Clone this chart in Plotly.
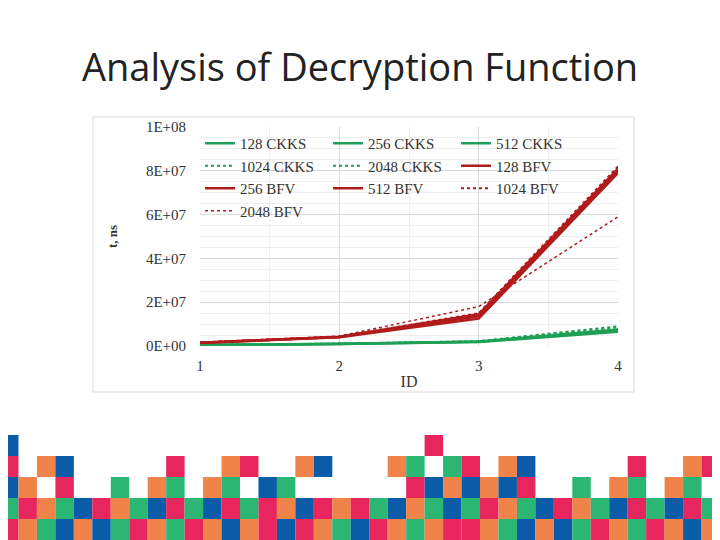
import plotly.graph_objects as go

ids = [1, 2, 3, 4]
names = ["128 CKKS", "256 CKKS", "512 CKKS", "1024 CKKS", "2048 CKKS",
         "128 BFV", "256 BFV", "512 BFV", "1024 BFV", "2048 BFV"]
values = [
    [0.4e6, 0.9e6, 1.8e6, 6.5e6],
    [0.4e6, 0.9e6, 1.9e6, 7.0e6],
    [0.5e6, 1.0e6, 2.0e6, 7.5e6],
    [0.5e6, 1.0e6, 2.1e6, 8.5e6],
    [0.5e6, 1.1e6, 2.2e6, 9.0e6],
    [1.4e6, 4.0e6, 12.5e6, 79e6],
    [1.5e6, 4.1e6, 13.5e6, 80e6],
    [1.5e6, 4.2e6, 14.5e6, 81e6],
    [1.6e6, 4.3e6, 15.0e6, 82e6],
    [1.7e6, 4.5e6, 18.0e6, 59e6],
]
green, red = "#1FA055", "#B01C1C"
styles = [(green, 2.5, "solid"), (green, 2.5, "solid"), (green, 2.5, "solid"),
          (green, 2, "dot"), (green, 2, "dot"),
          (red, 2.5, "solid"), (red, 2.5, "solid"), (red, 2.5, "solid"),
          (red, 2, "dot"), (red, 1.5, "dot")]

fig = go.Figure()
for n, v, (c, w, d) in zip(names, values, styles):
    fig.add_trace(go.Scatter(x=ids, y=v, name=n, mode="lines",
                             line=dict(color=c, width=w, dash=d)))

# page has an 8px body margin; target pixel positions are shifted accordingly
OFF = 8
L, R, T, B = 200 - OFF, 618 - OFF, 127 - OFF, 346 - OFF
PW, PH = R - L, B - T


def px(x):
    return (x - OFF - L) / PW


def py(y):
    return (B - (y - OFF)) / PH


grid = [
    "B......................P...............",
    "P.OB.....P..OP..OB...OG.GP.OB.....P..OP",
    "BO.P..G.OG.OG.BG......PBOBOBP..G.OG.OG.",
    "GPOGBPOGBPGBPGPOBPOPGBOGBGPOGBPOGBPGBPG",
    "POGBOBGPOGPOBOPBPOGBPOGOPPOGBOBGPOGPOBO",
]
cols = {"P": "#E8265E", "O": "#F0834A", "G": "#2BB673", "B": "#0A5CA8"}
shapes = []
cw, rh, top = 720 / 39, 21, 435
for r, row in enumerate(grid):
    for c, ch in enumerate(row):
        if ch in cols:
            x0, y0 = c * cw, top + r * rh
            shapes.append(dict(type="rect", xref="paper", yref="paper",
                               x0=px(x0), x1=px(x0 + cw), y0=py(y0), y1=py(y0 + rh),
                               fillcolor=cols[ch], line=dict(width=0), layer="below"))
shapes.append(dict(type="rect", xref="paper", yref="paper",
                   x0=px(93), x1=px(634), y0=py(117), y1=py(392),
                   line=dict(color="#D9D9D9", width=1), layer="below"))

tf = dict(family="Liberation Serif", size=15, color="#333")
fig.update_layout(
    width=720, height=540, plot_bgcolor="white", paper_bgcolor="white",
    margin=dict(l=L, r=720 - R, t=T, b=540 - B, autoexpand=False),
    title=dict(text="Analysis of Decryption Function", x=(360 - OFF) / 720, xref="container", xanchor="center",
               y=1 - (68 - OFF) / 540, yanchor="middle",
               font=dict(family="Open Sans", size=38, color="#222")),
    xaxis=dict(range=[1, 4], tickvals=ids, tickfont=tf, showline=False, zeroline=False, automargin=False,
               ticks="outside", ticklen=6, tickcolor="rgba(0,0,0,0)",
               gridcolor="#D9D9D9", minor=dict(dtick=0.5, showgrid=True, gridcolor="#EFEFEF"),
               title=dict(text="ID", font=dict(family="Liberation Serif", size=16, color="#333"), standoff=2)),
    yaxis=dict(range=[0, 1e8], tickvals=[0, 2e7, 4e7, 6e7, 8e7, 1e8],
               ticktext=["0E+00", "2E+07", "4E+07", "6E+07", "8E+07", "1E+08"],
               ticks="outside", ticklen=10, tickcolor="rgba(0,0,0,0)",
               tickfont=tf, zeroline=False, gridcolor="#D9D9D9", automargin=False,
               minor=dict(dtick=5e6, showgrid=True, gridcolor="#EFEFEF"),
               title=dict(text="<b>t, ns</b>", font=dict(family="Liberation Serif", size=13, color="#333"), standoff=25)),
    legend=dict(orientation="h", x=0.0, y=1.0, xanchor="left", yanchor="top",
                entrywidth=83, bgcolor="rgba(255,255,255,0)", tracegroupgap=0,
                font=dict(family="Liberation Serif", size=15, color="#333")),
    shapes=shapes, showlegend=True,
)
fig.write_html("out.html")
